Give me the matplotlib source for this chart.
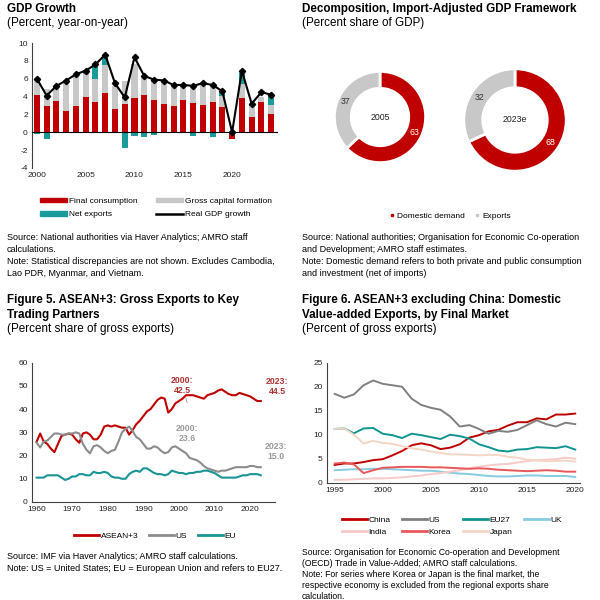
import numpy as np
import matplotlib
matplotlib.use("Agg")
import matplotlib.pyplot as plt
from matplotlib.lines import Line2D
from matplotlib.patches import Patch

plt.rcParams['font.family'] = ['Liberation Sans', 'DejaVu Sans']
plt.rcParams['axes.unicode_minus'] = False

RED = '#C00000'
BARGRAY = '#C8C8C8'
TEAL = '#1A9A9A'

# ---- Figure 3: GDP growth contributions ----
gdp_years = list(range(2000, 2025))
final_cons = [4.2, 3.0, 3.5, 2.4, 2.9, 3.9, 3.4, 4.4, 2.6, 3.2, 3.8, 4.2, 3.6,
              3.2, 2.9, 3.6, 3.3, 3.1, 3.4, 2.8, -0.8, 3.8, 1.7, 3.4, 2.0]
gross_cap = [1.7, 1.9, 1.3, 3.3, 3.4, 2.6, 2.6, 3.1, 2.6, 2.5, 3.8, 1.9, 2.2,
             2.5, 2.3, 1.5, 1.9, 2.4, 1.9, 1.3, 0.1, 1.6, 1.2, 0.6, 1.1]
net_exp = [-0.2, -0.7, 0.3, 0.0, 0.2, 0.3, 1.6, 0.9, -0.1, -1.8, -0.4, -0.5, -0.3,
           -0.1, 0.0, 0.1, -0.4, 0.0, -0.5, 0.5, 0.0, 1.2, 0.2, -0.1, 1.0]
real_gdp = [6.0, 4.1, 5.2, 5.8, 6.5, 6.9, 7.6, 8.7, 5.5, 3.9, 8.4, 6.3, 5.9,
            5.8, 5.3, 5.3, 5.2, 5.5, 5.3, 4.6, 0.0, 6.9, 3.2, 4.5, 4.2]

# ---- Figure 4: donuts ----
donut_labels = ['2005', '2023e']
domestic_share = [63, 68]
export_share = [37, 32]

# ---- Figure 5: gross exports by partner ----
f5_years = list(range(1960, 2024))
asean3 = [26, 29.5, 26, 25, 23, 21.5, 25, 28.5, 29, 29.5, 29, 27, 25.5, 29.5, 30, 29,
          27, 27, 29, 32.5, 33, 32.5, 33, 32.5, 32, 32, 29, 31, 33.5, 35, 37, 39,
          40, 42, 44, 45, 44.5, 38.5, 40, 42.5, 43.5, 44.5, 46, 46, 46, 45.5, 45, 44.5,
          46, 46.5, 47, 48, 48.5, 47.5, 46.5, 46, 46, 47, 46.5, 46, 45.5, 44.5, 43.5, 43.5]
us5 = [25.5, 23.5, 26, 26.5, 28, 29.5, 29.5, 29, 29, 29.5, 29.5, 30, 29.5, 25, 22.5, 21,
       24, 24.5, 23.5, 22, 21, 22, 22.5, 26, 30, 31.5, 32.5, 30.5, 28, 27, 25, 23,
       23, 24, 23.5, 22, 21, 21.5, 23.5, 24, 23, 22, 21, 19, 18.5, 18, 17, 15.5,
       14.5, 14, 13.5, 13, 13.5, 13.5, 14, 14.5, 15, 15, 15, 15, 15.5, 15.5, 15, 15]
eu5 = [10.5, 10.5, 10.5, 11.5, 11.5, 11.5, 11.5, 10.5, 9.5, 10, 11, 11, 12, 12, 11.5, 11.5,
       13, 12.5, 12.5, 13, 12.5, 11, 10.5, 10.5, 10, 10, 12, 13, 13.5, 13, 14.5, 14.5,
       13.5, 12.5, 12, 12, 11.5, 12, 13.5, 13, 12.5, 12.5, 12, 12.5, 12.5, 13, 13, 13.5,
       13.5, 13, 12.5, 11.5, 10.5, 10.5, 10.5, 10.5, 10.5, 11, 11.5, 11.5, 12, 12, 12, 11.5]

# ---- Figure 6: domestic value-added exports by final market ----
f6_years = list(range(1995, 2021))
china6 = [3.7, 4.0, 4.0, 4.3, 4.7, 4.9, 5.7, 6.6, 7.8, 8.2, 7.8, 7.0, 7.3, 8.0, 9.4, 9.9,
          10.7, 11.0, 11.9, 12.6, 12.6, 13.4, 13.2, 14.2, 14.2, 14.4]
us6 = [18.5, 17.7, 18.4, 20.3, 21.3, 20.6, 20.3, 20.0, 17.5, 16.2, 15.6, 15.2, 13.8, 11.7,
       12.0, 11.2, 10.2, 10.8, 10.6, 11.0, 12.0, 13.0, 12.2, 11.7, 12.5, 12.2]
eu6 = [11.2, 11.3, 10.3, 11.3, 11.4, 10.2, 9.9, 9.3, 10.2, 9.9, 9.5, 9.1, 10.0, 9.7, 9.2,
       8.0, 7.4, 6.7, 6.5, 6.9, 7.0, 7.4, 7.3, 7.2, 7.6, 6.9]
uk6 = [2.6, 2.7, 2.8, 2.8, 2.9, 2.9, 2.8, 2.7, 2.6, 2.5, 2.5, 2.3, 2.1, 1.9, 1.8, 1.6,
       1.4, 1.3, 1.3, 1.4, 1.5, 1.5, 1.4, 1.4, 1.4, 1.2]
india6 = [0.6, 0.6, 0.7, 0.8, 0.9, 0.9, 1.0, 1.1, 1.3, 1.5, 1.8, 2.0, 2.3, 2.6, 3.0, 3.3,
          3.6, 3.8, 3.9, 4.2, 4.5, 4.7, 4.8, 4.9, 5.2, 5.0]
korea6 = [4.0, 4.2, 3.8, 2.0, 2.6, 3.1, 3.2, 3.3, 3.3, 3.3, 3.2, 3.2, 3.1, 3.0, 2.9, 3.0,
          2.9, 2.7, 2.6, 2.5, 2.4, 2.5, 2.6, 2.5, 2.3, 2.3]
japan6 = [11.2, 11.3, 10.0, 8.2, 8.7, 8.3, 8.1, 7.6, 7.2, 6.9, 6.5, 6.2, 5.9, 5.9, 5.8, 5.7,
          5.8, 5.8, 5.4, 5.2, 4.8, 4.6, 4.5, 4.5, 4.6, 4.4]

TITLE_FS = 8.4
NOTE_FS = 6.5
TICK_FS = 6.0
LEG_FS = 6.0
NOTE_LS = 1.42


def px(x, y):
    return x / 600, 1 - y / 600


def style_axis(ax):
    for s in ['top', 'right']:
        ax.spines[s].set_visible(False)
    ax.spines['left'].set_color('#404040')
    ax.spines['bottom'].set_color('#404040')
    ax.spines['left'].set_linewidth(0.8)
    ax.spines['bottom'].set_linewidth(0.8)
    ax.tick_params(length=0, labelsize=TICK_FS, pad=3, colors='#222222')


fig = plt.figure(figsize=(6, 6), dpi=100)

# ================= Panel 1 =================
fig.text(*px(7, 3), 'GDP Growth', fontsize=TITLE_FS, fontweight='bold', va='top')
fig.text(*px(7, 17), '(Percent, year-on-year)', fontsize=TITLE_FS, va='top')

ax1 = fig.add_axes([32 / 600, 1 - 168 / 600, 246 / 600, 125 / 600])
fc = np.array(final_cons)
gc = np.array(gross_cap)
nx = np.array(net_exp)
pos_base = np.zeros(len(fc))
neg_base = np.zeros(len(fc))
for vals, col in [(fc, RED), (gc, BARGRAY), (nx, TEAL)]:
    bottoms = np.where(vals >= 0, pos_base, neg_base)
    ax1.bar(gdp_years, vals, bottom=bottoms, width=0.62, color=col, zorder=2)
    pos_base = pos_base + np.where(vals >= 0, vals, 0)
    neg_base = neg_base + np.where(vals < 0, vals, 0)
ax1.plot(gdp_years, real_gdp, color='black', lw=1.5, marker='D', ms=3.2, zorder=4)
ax1.axhline(0, color='black', lw=0.8, zorder=3)
ax1.set_ylim(-4, 10)
ax1.set_yticks(range(-4, 11, 2))
ax1.set_xlim(1999.5, 2024.7)
ax1.set_xticks(range(2000, 2021, 5))
style_axis(ax1)
ax1.spines['bottom'].set_visible(False)

leg1_handles = [Patch(color=RED), Patch(color=BARGRAY), Patch(color=TEAL),
                Line2D([0], [0], color='black', lw=1.8)]
leg1_labels = ['Final consumption', 'Gross capital formation', 'Net exports', 'Real GDP growth']
order = [0, 2, 1, 3]
fig.legend([leg1_handles[i] for i in order], [leg1_labels[i] for i in order],
           loc='center', bbox_to_anchor=(156 / 600, 1 - 208 / 600), ncol=2,
           frameon=False, fontsize=LEG_FS, handlelength=3.2, handleheight=0.5,
           columnspacing=2.3, handletextpad=0.2, labelspacing=0.75)

fig.text(*px(7, 233), 'Source: National authorities via Haver Analytics; AMRO staff\n'
         'calculations.\nNote: Statistical discrepancies are not shown. Excludes Cambodia,\n'
         'Lao PDR, Myanmar, and Vietnam.', fontsize=NOTE_FS, va='top', linespacing=NOTE_LS)

# ================= Panel 2 =================
fig.text(*px(302, 3), 'Decomposition, Import-Adjusted GDP Framework', fontsize=TITLE_FS,
         fontweight='bold', va='top')
fig.text(*px(302, 17), '(Percent share of GDP)', fontsize=TITLE_FS, va='top')

centers = [(380, 117, 57), (515, 120, 64)]
for i, (cx, cy, r) in enumerate(centers):
    axd = fig.add_axes([(cx - r) / 600, 1 - (cy + r) / 600, 2 * r / 600, 2 * r / 600])
    axd.pie([domestic_share[i], export_share[i]], colors=[RED, BARGRAY],
            startangle=90, counterclock=False,
            wedgeprops=dict(width=0.37, edgecolor='white', linewidth=2))
    # value labels at ring middle
    start = 90.0
    for val, tc in [(domestic_share[i], 'white'), (export_share[i], '#333333')]:
        mid = np.deg2rad(start - val * 3.6 / 2)
        axd.text(0.83 * np.cos(mid), 0.83 * np.sin(mid), str(val), ha='center',
                 va='center', fontsize=6.3, color=tc)
        start -= val * 3.6
    axd.text(0, 0, donut_labels[i], ha='center', va='center', fontsize=6.3, color='#222222')
    axd.set_aspect('equal')

fig.legend([Line2D([0], [0], ls='none', marker='s', ms=1.8, color=RED),
            Line2D([0], [0], ls='none', marker='s', ms=1.8, color=BARGRAY)],
           ['Domestic demand', 'Exports'], loc='center',
           bbox_to_anchor=(450 / 600, 1 - 216 / 600), ncol=2, frameon=False,
           fontsize=LEG_FS, handlelength=0.6, handletextpad=0.3, columnspacing=1.2)

fig.text(*px(302, 233), 'Source: National authorities; Organisation for Economic Co-operation\n'
         'and Development; AMRO staff estimates.\nNote: Domestic demand refers to both '
         'private and public consumption\nand investment (net of imports)',
         fontsize=NOTE_FS, va='top', linespacing=NOTE_LS)

# ================= Panel 5 =================
fig.text(*px(7, 294), 'Figure 5. ASEAN+3: Gross Exports to Key\nTrading Partners',
         fontsize=TITLE_FS, fontweight='bold', va='top', linespacing=1.32)
fig.text(*px(7, 323), '(Percent share of gross exports)', fontsize=TITLE_FS, va='top')

ax5 = fig.add_axes([32 / 600, 1 - 502 / 600, 243 / 600, 139.3 / 600])
ax5.plot(f5_years, asean3, color=RED, lw=1.5, label='ASEAN+3')
ax5.plot(f5_years, us5, color='#8C8C8C', lw=1.5, label='US')
ax5.plot(f5_years, eu5, color='#1A9494', lw=1.5, label='EU')
ax5.set_ylim(0, 60)
ax5.set_yticks(range(0, 61, 10))
ax5.set_xlim(1958.7, 2027)
ax5.set_xticks(range(1960, 2021, 10))
style_axis(ax5)
ann_kw = dict(ha='center', va='bottom', fontsize=6.3, fontweight='bold',
              linespacing=1.15, clip_on=False)
ax5.annotate('2000:\n42.5', xy=(2002.3, 42.8), xytext=(2001.0, 46.0), color='#B03030',
             arrowprops=dict(arrowstyle='-', color='#999999', lw=0.6,
                             shrinkA=0, shrinkB=0), **ann_kw)
ax5.text(2002.3, 25.2, '2000:\n23.6', color='#9A9A9A', **ann_kw)
ax5.text(2027.6, 45.6, '2023:\n44.5', color='#B03030', **ann_kw)
ax5.text(2027.4, 17.8, '2023:\n15.0', color='#9A9A9A', **ann_kw)
fig.legend(*ax5.get_legend_handles_labels(), loc='center',
           bbox_to_anchor=(155 / 600, 1 - 536 / 600), ncol=3, frameon=False,
           fontsize=LEG_FS, handlelength=3.0, handletextpad=0.2, columnspacing=1.3)
for h in fig.legends[-1].get_lines():
    h.set_linewidth(2.0)

fig.text(*px(7, 552), 'Source: IMF via Haver Analytics; AMRO staff calculations.\n'
         'Note: US = United States; EU = European Union and refers to EU27.',
         fontsize=NOTE_FS, va='top', linespacing=NOTE_LS)

# ================= Panel 6 =================
fig.text(*px(302, 294), 'Figure 6. ASEAN+3 excluding China: Domestic\n'
         'Value-added Exports, by Final Market', fontsize=TITLE_FS, fontweight='bold',
         va='top', linespacing=1.32)
fig.text(*px(302, 323), '(Percent of gross exports)', fontsize=TITLE_FS, va='top')

ax6 = fig.add_axes([327 / 600, 1 - 482.7 / 600, 253 / 600, 120 / 600])
series6 = [(china6, '#C00000', 'China'), (us6, '#808080', 'US'),
           (eu6, '#119490', 'EU27'), (uk6, '#86CCE0', 'UK'),
           (india6, '#F7C9C9', 'India'), (korea6, '#E8585A', 'Korea'),
           (japan6, '#F3D6C6', 'Japan')]
for vals, col, lab in series6:
    ax6.plot(f6_years, vals, color=col, lw=1.4, label=lab)
ax6.set_ylim(0, 25)
ax6.set_yticks(range(0, 26, 5))
ax6.set_xlim(1994.2, 2020.5)
ax6.set_xticks(range(1995, 2021, 5))
style_axis(ax6)
h6, l6 = ax6.get_legend_handles_labels()
leg_order = [0, 4, 1, 5, 2, 6, 3]
fig.legend([h6[i] for i in leg_order], [l6[i] for i in leg_order], loc='center',
           bbox_to_anchor=(452 / 600, 1 - 526 / 600), ncol=4, frameon=False,
           fontsize=LEG_FS, handlelength=3.0, handletextpad=0.2, columnspacing=1.4,
           labelspacing=0.6)
for h in fig.legends[-1].get_lines():
    h.set_linewidth(2.0)

fig.text(*px(302, 548), 'Source: Organisation for Economic Co-operation and Development\n'
         '(OECD) Trade in Value-Added; AMRO staff calculations.\n'
         'Note: For series where Korea or Japan is the final market, the\n'
         'respective economy is excluded from the regional exports share\ncalculation.',
         fontsize=6.2, va='top', linespacing=1.27)

fig.savefig('out.png', dpi=100)
